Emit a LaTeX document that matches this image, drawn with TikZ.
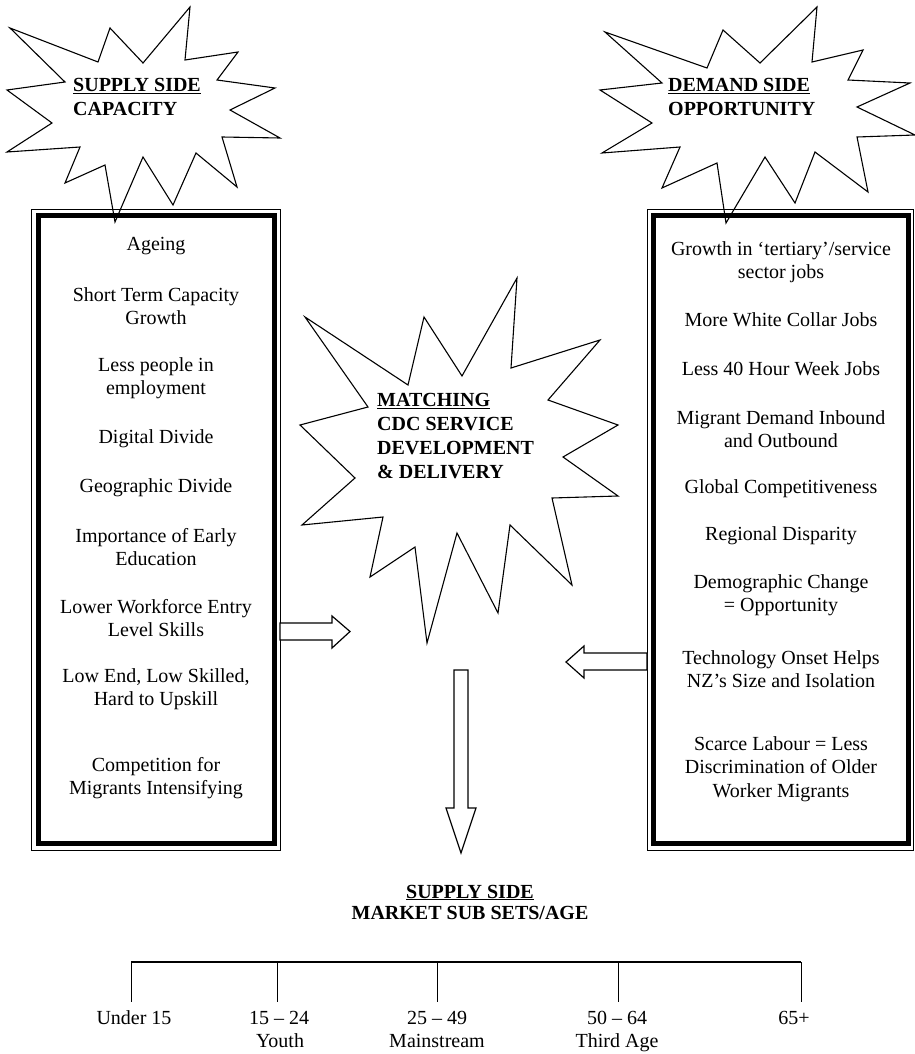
\documentclass[tikz,border=0pt]{standalone}
\usepackage{fontspec}
\setmainfont{Liberation Serif}
\begin{document}
\begin{tikzpicture}[x=1pt,y=-1pt,
  body/.style={font=\fontsize{20}{23.5}\selectfont, align=center, inner sep=0pt},
  label/.style={font=\fontsize{20}{23.5}\selectfont, inner sep=0pt, anchor=base},
  title/.style={font=\fontsize{20}{24}\selectfont\bfseries, align=left, inner sep=0pt, anchor=west},
  starline/.style={draw, line width=1.1pt, line join=miter},
  thickframe/.style={draw, line width=5pt},
  thinframe/.style={draw, line width=0.9pt},
  blockarrow/.style={draw, line width=1.2pt, fill=white, line join=miter},
  tick/.style={draw, line width=1pt},
  axis/.style={draw, line width=1.8pt}]
\useasboundingbox (0,0) rectangle (914,1054);

% ---------- boxes ----------
\draw[thinframe] (31,209) rectangle (280,850);
\draw[thickframe] (38,215) rectangle (274,843);
\draw[thinframe] (647,209) rectangle (913,850);
\draw[thickframe] (653,215) rectangle (908,843);
\coordinate (lboxE) at (280,631.5);
\coordinate (rboxW) at (647,661.5);

% ---------- supply side star ----------
\draw[starline] (10,28) -- (98,62) -- (110,28) -- (143,63) -- (190,7) -- (185,60)
  -- (238,52) -- (217,80) -- (275,88) -- (230,110) -- (280,138) -- (222,137)
  -- (237,187) -- (196,153) -- (173,205) -- (143,157) -- (115,222) -- (105,165)
  -- (65,183) -- (80,147) -- (7,152) -- (52,123) -- (7,90) -- (65,82) -- cycle;
\node[title] (supplystar) at (73,97) {\underline{SUPPLY SIDE}\\CAPACITY};

% ---------- demand side star ----------
\draw[starline] (605,32) -- (707,68) -- (723,30) -- (760,63) -- (817,7) -- (812,62)
  -- (863,50) -- (848,80) -- (910,83) -- (857,107) -- (915,135) -- (857,137)
  -- (868,192) -- (815,152) -- (795,203) -- (765,157) -- (726,223) -- (717,163)
  -- (662,188) -- (680,147) -- (602,153) -- (652,123) -- (600,90) -- (662,83) -- cycle;
\node[title] (demandstar) at (668,97) {\underline{DEMAND SIDE}\\OPPORTUNITY};

% ---------- matching star ----------
\draw[starline] (305,317) -- (408,385) -- (424,317) -- (462,376) -- (517,278)
  -- (511,368) -- (600,340) -- (548,400) -- (618,425) -- (563,457) -- (618,496)
  -- (552,498) -- (572,585) -- (510,525) -- (498,613) -- (457,533) -- (427,643)
  -- (415,547) -- (370,577) -- (383,517) -- (302,525) -- (355,478) -- (300,425)
  -- (368,407) -- cycle;
\node[title] (matching) at (377,436) {\underline{MATCHING}\\CDC SERVICE\\DEVELOPMENT\\\& DELIVERY};
\coordinate (matchS) at (461,670);

% ---------- left box texts ----------
\node[body] (l1) at (156,246) {Ageing};
\node[body] (l2) at (156,306) {Short Term Capacity\\Growth};
\node[body] (l3) at (156,378) {Less people in\\employment};
\node[body] (l4) at (156,439) {Digital Divide};
\node[body] (l5) at (156,488) {Geographic Divide};
\node[body] (l6) at (156,547) {Importance of Early\\Education};
\node[body] (l7) at (156,618) {Lower Workforce Entry\\Level Skills};
\node[body] (l8) at (156,689) {Low End, Low Skilled,\\Hard to Upskill};
\node[body] (l9) at (156,778) {Competition for\\Migrants Intensifying};

% ---------- right box texts ----------
\node[body] (r1) at (781,262) {Growth in ‘tertiary’/service\\sector jobs};
\node[body] (r2) at (781,320) {More White Collar Jobs};
\node[body] (r3) at (781,369) {Less 40 Hour Week Jobs};
\node[body] (r4) at (781,429) {Migrant Demand Inbound\\and Outbound};
\node[body] (r5) at (781,489) {Global Competitiveness};
\node[body] (r6) at (781,536) {Regional Disparity};
\node[body] (r7) at (781,595) {Demographic Change\\= Opportunity};
\node[body] (r8) at (781,669) {Technology Onset Helps\\NZ’s Size and Isolation};
\node[body] (r9) at (781,769) {Scarce Labour = Less\\Discrimination of Older\\Worker Migrants};

% ---------- block arrows ----------
\draw[blockarrow] (lboxE) ++(0,-8.5) -- ++(52,0) -- ++(0,-7) -- (350,631.5)
  -- (332,648) -- ++(0,-8) -- (280,640) -- cycle;
\draw[blockarrow] (rboxW) ++(0,-8.5) -- (584,653) -- (584,646) -- (566,662)
  -- (584,678) -- (584,670) -- (647,670) -- cycle;
\draw[blockarrow] (matchS) ++(-7,0) -- ++(14,0) -- (468,808) -- (476,808)
  -- (461,853) -- (446,808) -- (454,808) -- cycle;

% ---------- bottom title ----------
\node[body, font=\fontsize{20}{21}\selectfont\bfseries] (market) at (470,902)
  {\underline{SUPPLY SIDE}\\MARKET SUB SETS/AGE};

% ---------- age timeline ----------
\draw[axis] (131,962) -- (801,962);
\coordinate (t1) at (131,962);
\coordinate (t2) at (277,962);
\coordinate (t3) at (437,962);
\coordinate (t4) at (618,962);
\coordinate (t5) at (801,962);
\foreach \t in {t1,t2,t3,t4,t5} \draw[tick] (\t) -- ++(0,40);
\node[label] (a1) at (134,1024) {Under 15};
\node[label] (a2) at (279,1024) {15 – 24};
\node[label] (a2b) at (280,1047) {Youth};
\node[label] (a3) at (437,1024) {25 – 49};
\node[label] (a3b) at (437,1047) {Mainstream};
\node[label] (a4) at (617,1024) {50 – 64};
\node[label] (a4b) at (617,1047) {Third Age};
\node[label] (a5) at (794,1024) {65+};
\end{tikzpicture}
\end{document}
